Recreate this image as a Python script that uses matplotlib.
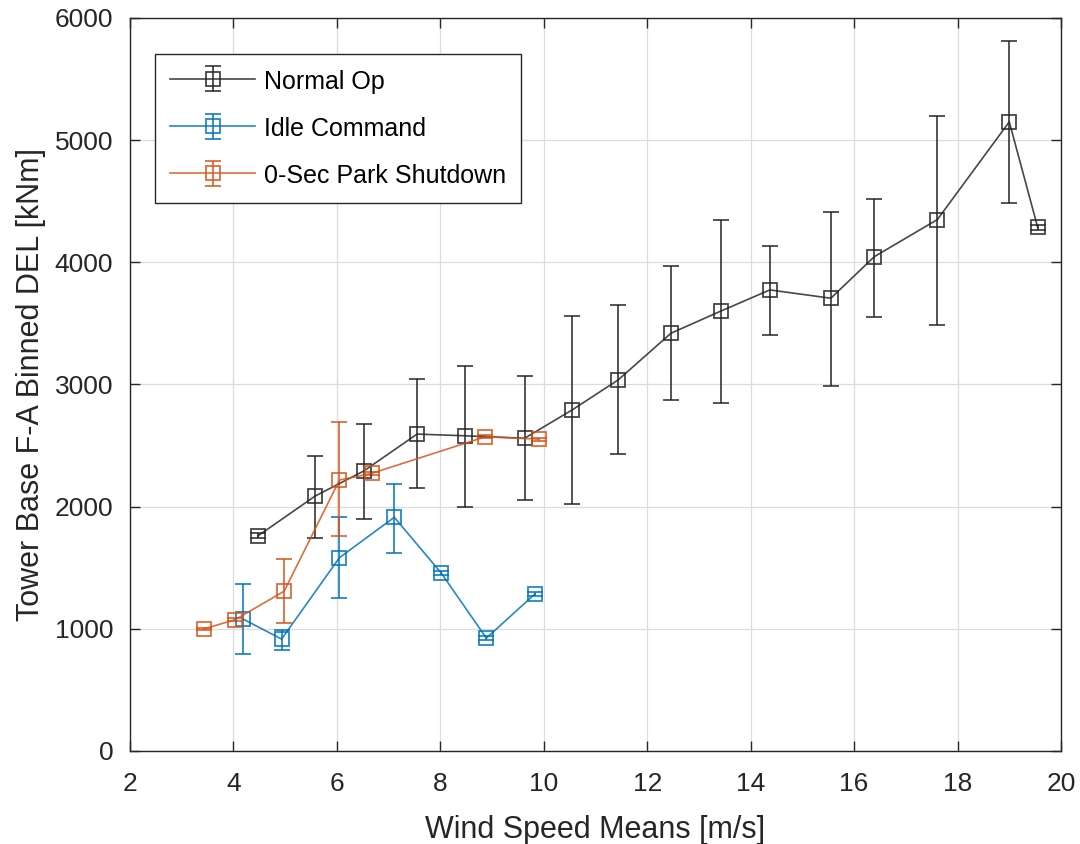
import numpy as np
import matplotlib.pyplot as plt

plt.rcParams['font.family'] = ['Liberation Sans', 'DejaVu Sans']

# binned DEL results per case: bin mean wind speed, mean DEL, error bar low/high
normal_ws = [4.47, 5.58, 6.52, 7.55, 8.48, 9.63, 10.55, 11.44, 12.46, 13.43, 14.37, 15.55, 16.39, 17.61, 19.0, 19.55]
normal_del = [1760, 2087, 2292, 2594, 2580, 2560, 2792, 3038, 3420, 3602, 3774, 3706, 4046, 4350, 5150, 4285]
normal_lo = [1740, 1747, 1899, 2153, 1997, 2056, 2025, 2431, 2869, 2847, 3404, 2989, 3550, 3484, 4482, 4265]
normal_hi = [1782, 2414, 2676, 3044, 3152, 3066, 3561, 3649, 3970, 4347, 4137, 4413, 4522, 5200, 5813, 4305]

idle_ws = [4.19, 4.93, 6.05, 7.11, 8.02, 8.89, 9.83]
idle_del = [1079, 916, 1583, 1913, 1455, 924, 1286]
idle_lo = [790, 828, 1251, 1624, 1440, 910, 1272]
idle_hi = [1365, 992, 1913, 2183, 1470, 938, 1300]

park_ws = [3.43, 4.03, 4.98, 6.05, 6.67, 8.87, 9.90]
park_del = [1000, 1074, 1308, 2218, 2272, 2572, 2553]
park_lo = [990, 1062, 1046, 1760, 2258, 2560, 2540]
park_hi = [1010, 1086, 1569, 2689, 2286, 2584, 2566]

cases = [
    ('Normal Op', normal_ws, normal_del, normal_lo, normal_hi, '#262626'),
    ('Idle Command', idle_ws, idle_del, idle_lo, idle_hi, '#0072BD'),
    ('0-Sec Park Shutdown', park_ws, park_del, park_lo, park_hi, '#D95319'),
]

fig = plt.figure(figsize=(10.8, 8.44), dpi=100)
ax = fig.add_axes([0.1204, 0.1102, 0.862, 0.8685])

for name, ws, dl, lo, hi, col in cases:
    dl = np.array(dl)
    yerr = [dl - np.array(lo), np.array(hi) - dl]
    ax.errorbar(ws, dl, yerr=yerr, color=col, lw=1.2, elinewidth=1.3,
                capsize=6, capthick=1.3, marker='s', markersize=9.5,
                markerfacecolor='none', markeredgewidth=1.3, label=name,
                alpha=0.85)

ax.set_xlim(2, 20)
ax.set_ylim(0, 6000)
ax.set_xticks(np.arange(2, 21, 2))
ax.set_yticks(np.arange(0, 6001, 1000))
ax.grid(True, color='#dcdcdc', lw=0.9)
ax.set_axisbelow(True)
ax.tick_params(direction='in', length=7, width=1, top=True, right=True,
               labelsize=19, colors='#262626', pad=12)
ax.tick_params(axis='x', pad=15)
for s in ax.spines.values():
    s.set_color('#262626')
    s.set_linewidth(1)

ax.set_xlabel('Wind Speed Means [m/s]', fontsize=22, color='#262626', labelpad=14)
ax.set_ylabel('Tower Base F-A Binned DEL [kNm]', fontsize=22, color='#262626', labelpad=6)

leg = ax.legend(loc='upper left', bbox_to_anchor=(0.027, 0.951), borderaxespad=0,
                fontsize=18, fancybox=False, framealpha=1, edgecolor='#262626',
                handlelength=3.4, borderpad=0.6, labelspacing=0.9,
                handletextpad=0.35, handleheight=1.0)
leg.get_frame().set_linewidth(1)

fig.savefig('out.png', dpi=100)
